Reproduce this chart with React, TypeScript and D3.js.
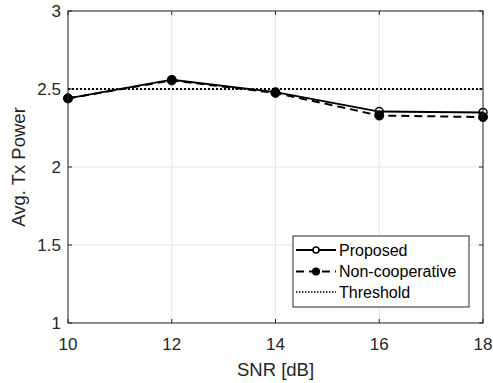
import React from "react";
import * as d3 from "d3";

const snr = [10, 12, 14, 16, 18];
const proposed = [2.44, 2.56, 2.48, 2.355, 2.35];
const nonCoop = [2.44, 2.555, 2.475, 2.33, 2.32];
const threshold = 2.5;
const xTicks = [10, 12, 14, 16, 18];
const yTicks = [1, 1.5, 2, 2.5, 3];
const yTickLabels = ["1", "1.5", "2", "2.5", "3"];
const legendLabels = ["Proposed", "Non-cooperative", "Threshold"];

const W = 493, H = 383;
const L = 68, R = 483, T = 11, B = 323;
const FONT = "'Liberation Sans', Arial, Helvetica, sans-serif";

export default function App() {
  const x = d3.scaleLinear().domain([10, 18]).range([L, R]);
  const y = d3.scaleLinear().domain([1, 3]).range([B, T]);
  const line = d3.line<number>().x((_, i) => x(snr[i])).y((d) => y(d));
  const axisCol = "#262626";

  const legX = 293, legY = 236, legW = 176, legH = 71;
  const rows = [250, 271.5, 292];

  return (
    <svg width={W} height={H} style={{ position: "absolute", left: 0, top: 0, background: "#fff" }}>
      <rect x={0} y={0} width={W} height={H} fill="#fff" />
      {/* grid */}
      {xTicks.map((t) => (
        <line key={"gx" + t} x1={x(t)} x2={x(t)} y1={T} y2={B} stroke="#e6e6e6" strokeWidth={1} />
      ))}
      {yTicks.map((t) => (
        <line key={"gy" + t} x1={L} x2={R} y1={y(t)} y2={y(t)} stroke="#e6e6e6" strokeWidth={1} />
      ))}
      {/* threshold */}
      <line x1={x(10)} x2={x(18)} y1={y(threshold)} y2={y(threshold)} stroke="#000" strokeWidth={2} strokeDasharray="2 2" />
      {/* proposed */}
      <path d={line(proposed) || ""} fill="none" stroke="#000" strokeWidth={2} />
      {proposed.map((v, i) => (
        <circle key={"p" + i} cx={x(snr[i])} cy={y(v)} r={4} fill="none" stroke="#000" strokeWidth={1.5} />
      ))}
      {/* non-coop */}
      <path d={line(nonCoop) || ""} fill="none" stroke="#000" strokeWidth={2} strokeDasharray="8 5" />
      {nonCoop.map((v, i) => (
        <circle key={"n" + i} cx={x(snr[i])} cy={y(v)} r={4.5} fill="#000" stroke="#000" strokeWidth={1} />
      ))}
      {/* axes box */}
      <rect x={L} y={T} width={R - L} height={B - T} fill="none" stroke={axisCol} strokeWidth={1} />
      {xTicks.map((t) => (
        <g key={"xt" + t}>
          <line x1={x(t)} x2={x(t)} y1={B} y2={B - 4} stroke={axisCol} />
          <line x1={x(t)} x2={x(t)} y1={T} y2={T + 4} stroke={axisCol} />
          <text x={x(t)} y={350} textAnchor="middle" fontFamily={FONT} fontSize={17} fill={axisCol}>{t}</text>
        </g>
      ))}
      {yTicks.map((t, i) => (
        <g key={"yt" + t}>
          <line x1={L} x2={L + 4} y1={y(t)} y2={y(t)} stroke={axisCol} />
          <line x1={R} x2={R - 4} y1={y(t)} y2={y(t)} stroke={axisCol} />
          <text x={61} y={y(t) + 6} textAnchor="end" fontFamily={FONT} fontSize={17} fill={axisCol}>{yTickLabels[i]}</text>
        </g>
      ))}
      <text x={(L + R) / 2} y={376} textAnchor="middle" fontFamily={FONT} fontSize={18.5} fill={axisCol}>SNR [dB]</text>
      <text transform={`translate(25,${(T + B) / 2}) rotate(-90)`} textAnchor="middle" fontFamily={FONT} fontSize={18.5} fill={axisCol}>Avg. Tx Power</text>
      {/* legend */}
      <rect x={legX} y={legY} width={legW} height={legH} fill="#fff" stroke={axisCol} strokeWidth={1} />
      <line x1={296} x2={336} y1={rows[0]} y2={rows[0]} stroke="#000" strokeWidth={2} />
      <circle cx={316} cy={rows[0]} r={3} fill="#fff" stroke="#000" strokeWidth={1.5} />
      <line x1={296} x2={336} y1={rows[1]} y2={rows[1]} stroke="#000" strokeWidth={2} strokeDasharray="8 5" />
      <circle cx={316} cy={rows[1]} r={4} fill="#000" />
      <line x1={296} x2={336} y1={rows[2]} y2={rows[2]} stroke="#000" strokeWidth={1.5} strokeDasharray="1.5 1.5" />
      {legendLabels.map((l, i) => (
        <text key={l} x={339} y={rows[i] + 5.5} fontFamily={FONT} fontSize={16} fill="#000">{l}</text>
      ))}
    </svg>
  );
}
